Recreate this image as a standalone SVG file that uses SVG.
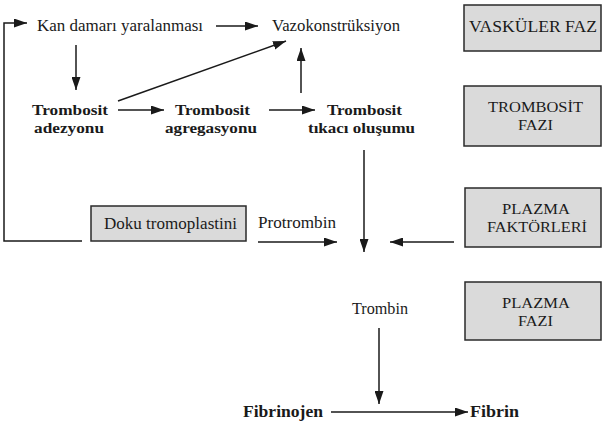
<svg xmlns="http://www.w3.org/2000/svg" width="602" height="422" viewBox="0 0 602 422" font-family="'Liberation Serif', 'Times New Roman', 'DejaVu Serif', serif">
<style>
text{font-family:'Liberation Serif','Times New Roman','DejaVu Serif',serif;fill:#1a1a1a;}
.r{font-size:16.5px;}
.t{font-size:15.5px;}
.b{font-size:15.5px;font-weight:bold;}
.box{fill:#dadada;stroke:#2a2a2a;stroke-width:1.5;}
.c{fill:none;stroke:#1a1a1a;stroke-width:1.5;}
</style>
<defs>
<marker id="ah" markerUnits="userSpaceOnUse" markerWidth="13" markerHeight="9" refX="13" refY="4.5" orient="auto">
<path d="M0,0 L13,4.5 L0,9 Z" fill="#1a1a1a"/>
</marker>
</defs>
<g id="connectors">
<path class="c" d="M82,241 H4 V23 H27" marker-end="url(#ah)"/>
<path class="c" d="M216,26 H258" marker-end="url(#ah)"/>
<path class="c" d="M76,45 V90" marker-end="url(#ah)"/>
<path class="c" d="M118,101 L286,41" marker-end="url(#ah)"/>
<path class="c" d="M118,110 H164" marker-end="url(#ah)"/>
<path class="c" d="M269,110 H315" marker-end="url(#ah)"/>
<path class="c" d="M301,93 V48" marker-end="url(#ah)"/>
<path class="c" d="M364,150 V252" marker-end="url(#ah)"/>
<path class="c" d="M258,242 H337" marker-end="url(#ah)"/>
<path class="c" d="M454,242 H390" marker-end="url(#ah)"/>
<path class="c" d="M379,328 V404" marker-end="url(#ah)"/>
<path class="c" d="M331,412 H468" marker-end="url(#ah)"/>
</g>
<g id="kan"><text class="r" x="37" y="31" textLength="166" lengthAdjust="spacingAndGlyphs">Kan damarı yaralanması</text></g>
<g id="vazo"><text class="r" x="272" y="31" textLength="128" lengthAdjust="spacingAndGlyphs">Vazokonstrüksiyon</text></g>
<g id="adezyon">
<text class="b" x="32" y="115" textLength="76" lengthAdjust="spacingAndGlyphs">Trombosit</text>
<text class="b" x="34" y="132.5" textLength="70" lengthAdjust="spacingAndGlyphs">adezyonu</text>
</g>
<g id="agregasyon">
<text class="b" x="175" y="115" textLength="75" lengthAdjust="spacingAndGlyphs">Trombosit</text>
<text class="b" x="165" y="132.5" textLength="92" lengthAdjust="spacingAndGlyphs">agregasyonu</text>
</g>
<g id="tikac">
<text class="b" x="327" y="115" textLength="75" lengthAdjust="spacingAndGlyphs">Trombosit</text>
<text class="b" x="308" y="132.5" textLength="107" lengthAdjust="spacingAndGlyphs">tıkacı oluşumu</text>
</g>
<g id="vaskuler-faz">
<rect class="box" x="464" y="5" width="137" height="46"/>
<text class="r" x="469" y="32" textLength="128" lengthAdjust="spacingAndGlyphs">VASKÜLER FAZ</text>
</g>
<g id="trombosit-fazi">
<rect class="box" x="464" y="86" width="137" height="60"/>
<text class="t" x="488" y="112" textLength="95" lengthAdjust="spacingAndGlyphs">TROMBOSİT</text>
<text class="t" x="518" y="129.5" textLength="35" lengthAdjust="spacingAndGlyphs">FAZI</text>
</g>
<g id="plazma-faktorleri">
<rect class="box" x="465" y="188" width="136" height="59"/>
<text class="t" x="502" y="214" textLength="68" lengthAdjust="spacingAndGlyphs">PLAZMA</text>
<text class="t" x="487" y="232" textLength="100" lengthAdjust="spacingAndGlyphs">FAKTÖRLERİ</text>
</g>
<g id="plazma-fazi">
<rect class="box" x="465" y="282" width="136" height="58"/>
<text class="t" x="502" y="308" textLength="68" lengthAdjust="spacingAndGlyphs">PLAZMA</text>
<text class="t" x="518" y="326" textLength="35" lengthAdjust="spacingAndGlyphs">FAZI</text>
</g>
<g id="doku">
<rect class="box" x="91" y="206" width="155" height="35"/>
<text class="r" x="104" y="229" textLength="133" lengthAdjust="spacingAndGlyphs">Doku tromoplastini</text>
</g>
<g id="protrombin"><text class="r" x="258" y="228" textLength="78" lengthAdjust="spacingAndGlyphs">Protrombin</text></g>
<g id="trombin"><text class="r" x="352" y="314" textLength="56" lengthAdjust="spacingAndGlyphs">Trombin</text></g>
<g id="fibrinojen"><text class="b" x="243" y="417" textLength="80" lengthAdjust="spacingAndGlyphs" style="font-size:17px">Fibrinojen</text></g>
<g id="fibrin"><text class="b" x="470" y="417" textLength="49" lengthAdjust="spacingAndGlyphs" style="font-size:17px">Fibrin</text></g>
</svg>
